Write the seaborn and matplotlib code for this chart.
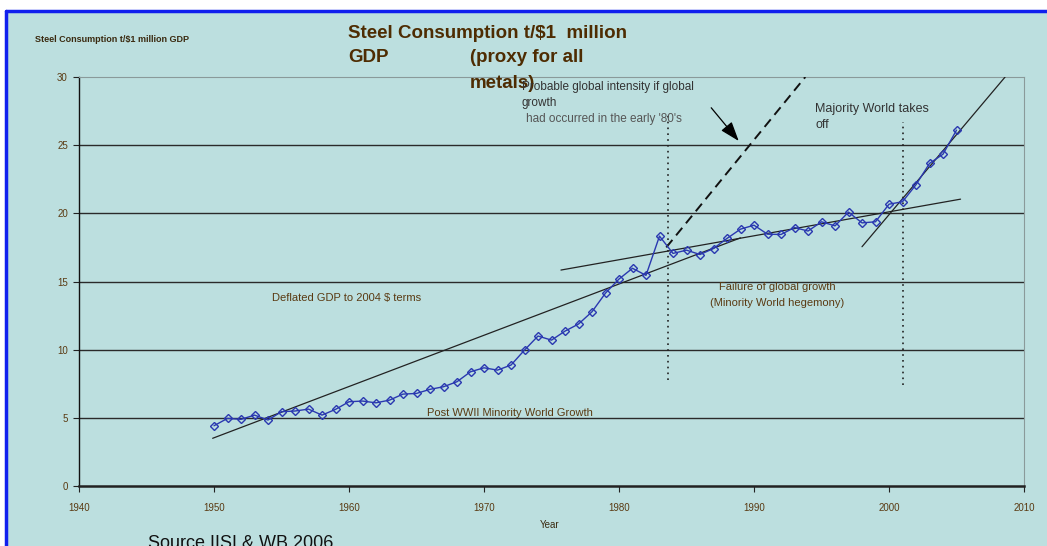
import numpy as np
import matplotlib
matplotlib.use("Agg")
import matplotlib.pyplot as plt
import matplotlib.patches as mpatches
import seaborn as sns

# ---- data ----
years = list(range(1950, 2006))
steel_intensity = [
    4.42, 4.96, 4.89, 5.20, 4.84, 5.45, 5.50, 5.64, 5.20, 5.62,
    6.18, 6.23, 6.10, 6.30, 6.74, 6.79, 7.09, 7.28, 7.65, 8.38,
    8.67, 8.50, 8.87, 9.97, 11.00, 10.70, 11.36, 11.88, 12.78, 14.15,
    15.18, 15.97, 15.45, 18.33, 17.06, 17.30, 16.98, 17.42, 18.16, 18.84,
    19.13, 18.47, 18.45, 18.96, 18.70, 19.38, 19.08, 20.09, 19.30, 19.38,
    20.67, 20.85, 22.10, 23.66, 24.34, 26.10,
]

# trend lines (end points)
post_war_x = [1949.9, 1989.0]
post_war_y = [3.5, 18.2]
failure_x = [1975.7, 2005.3]
failure_y = [15.84, 21.04]
takeoff_x = [1998.0, 2008.6]
takeoff_y = [17.55, 30.0]
probable_x = [1983.5, 1993.8]
probable_y = [17.5, 30.0]

# vertical dotted markers
marker_years = [1983.6, 2001.0]
marker_low = [7.8, 7.4]
marker_high = [27.2, 26.7]

x_ticks = [1940, 1950, 1960, 1970, 1980, 1990, 2000, 2010]
y_ticks = [0, 5, 10, 15, 20, 25, 30]

BG = "#bcdfdf"
BROWN = "#5a3a12"
DARK_BROWN = "#4e2c02"
BLUE = "#2a38b0"

sns.set_theme(style="white")
plt.rcParams["font.family"] = ["Liberation Sans", "DejaVu Sans"]

W, H = 1047, 546
fig = plt.figure(figsize=(W / 100, H / 100), dpi=100)
fig.patch.set_facecolor("white")

# panel with blue border on left/top
fig.patches.append(mpatches.Rectangle((6 / W, 0), 1 - 6 / W, 1 - 11 / H,
                                      transform=fig.transFigure, facecolor=BG,
                                      edgecolor="none", zorder=-10))
fig.add_artist(plt.Line2D([6 / W, 6 / W], [0, 1 - 11 / H], color="#1020ee", lw=2.5,
                          transform=fig.transFigure, zorder=-5))
fig.add_artist(plt.Line2D([6 / W, 1], [1 - 11 / H, 1 - 11 / H], color="#1020ee", lw=2.5,
                          transform=fig.transFigure, zorder=-5))

ax = fig.add_axes([79 / W, 1 - 486 / H, (1024 - 79) / W, (486 - 77) / H])
ax.set_zorder(2)
ax.patch.set_alpha(0)

ax.set_xlim(1940, 2010)
ax.set_ylim(0, 30)

for yv in [5, 10, 15, 20, 25]:
    ax.axhline(yv, color="#2a2a2a", lw=1.0, zorder=1)

sns.lineplot(x=years, y=steel_intensity, ax=ax, color=BLUE, lw=1.0, marker="D",
             markersize=4.5, markerfacecolor="none", markeredgecolor=BLUE,
             markeredgewidth=1.0, zorder=4)

ax.plot(post_war_x, post_war_y, color="#222222", lw=0.9, zorder=3)
ax.plot(failure_x, failure_y, color="#222222", lw=0.9, zorder=3)
ax.plot(takeoff_x, takeoff_y, color="#222222", lw=0.9, zorder=3)
ax.plot(probable_x, probable_y, color="#111111", lw=1.4, ls=(0, (5, 3)), zorder=3)
for xv, lo, hi in zip(marker_years, marker_low, marker_high):
    ax.plot([xv, xv], [lo, hi], color="#222222", lw=1.2, ls=(0, (1, 2.5)), zorder=3)

ax.annotate("", xy=(1989.0, 25.15), xytext=(1986.7, 27.9),
            arrowprops=dict(arrowstyle="-|>,head_width=0.35,head_length=1.0",
                            color="black", lw=0.9))

ax.set_xticks(x_ticks)
ax.set_yticks(y_ticks)
ax.set_xticklabels([str(v) for v in x_ticks], fontsize=7, color=BROWN)
ax.set_yticklabels([str(v) for v in y_ticks], fontsize=7, color=BROWN)
ax.tick_params(axis="both", direction="out", length=4, width=0.8, color="#222222",
               bottom=True, left=True)
ax.tick_params(axis="x", pad=8)
ax.tick_params(axis="y", pad=4)
for side in ["top", "right"]:
    ax.spines[side].set_color("#8a9a9a")
    ax.spines[side].set_linewidth(0.8)
ax.spines["left"].set_color("#111111")
ax.spines["left"].set_linewidth(1.0)
ax.spines["bottom"].set_color("#222222")
ax.spines["bottom"].set_linewidth(1.8)


def ftext(px, py, s, **kw):
    fig.text(px / W, 1 - py / H, s, va="center", zorder=5, **kw)


ftext(35, 40, "Steel Consumption t/$1 million GDP", fontsize=6.5, weight="bold", color="#3a2a10")
ftext(348, 33, "Steel Consumption t/$1  million", fontsize=13.5, weight="bold", color=DARK_BROWN)
ftext(348, 58, "GDP", fontsize=13.5, weight="bold", color=DARK_BROWN)
ftext(470, 58, "(proxy for all", fontsize=13.5, weight="bold", color=DARK_BROWN)
ftext(470, 84, "metals)", fontsize=13.5, weight="bold", color=DARK_BROWN)

ftext(522, 87, "Probable global intensity if global", fontsize=8.5, color="#333333")
ftext(522, 103, "growth", fontsize=8.5, color="#333333")
ftext(526, 119, "had occurred in the early '80's", fontsize=8.5, color="#555555")
ftext(815, 109, "Majority World takes", fontsize=9, color="#333333")
ftext(815, 125, "off", fontsize=9, color="#333333")

ftext(272, 298, "Deflated GDP to 2004 $ terms", fontsize=8, color=BROWN)
ftext(777, 287, "Failure of global growth", fontsize=8, color=BROWN, ha="center")
ftext(777, 303, "(Minority World hegemony)", fontsize=8, color=BROWN, ha="center")
ftext(427, 413, "Post WWII Minority World Growth", fontsize=8, color=BROWN)
ftext(550, 525, "Year", fontsize=7, color="#3a2a10", ha="center")
ftext(148, 543, "Source IISI & WB 2006", fontsize=13, color="#111111")

fig.savefig("out.png", dpi=100, facecolor=fig.get_facecolor())
